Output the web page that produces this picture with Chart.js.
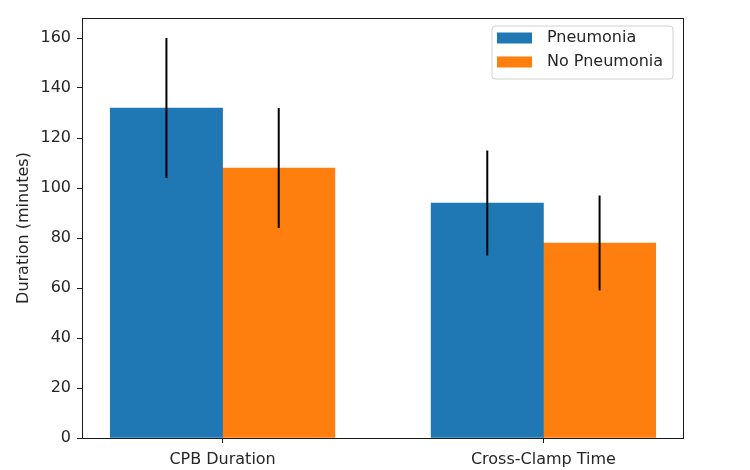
<!DOCTYPE html>
<html>
<head>
<meta charset="utf-8">
<script src="https://cdn.jsdelivr.net/npm/chart.js@4.4.1/dist/chart.umd.min.js"></script>
<style>
  html, body { margin: 0; padding: 0; background: #ffffff; }
  canvas { display: block; }
</style>
</head>
<body>
<canvas id="c" width="750" height="470"></canvas>
<script>
// ---- data ----
const categories = ["CPB Duration", "Cross-Clamp Time"];
const seriesLabels = ["Pneumonia", "No Pneumonia"];
const pneumoniaMeans = [132, 94];
const pneumoniaErrors = [28, 21];
const noPneumoniaMeans = [108, 78];
const noPneumoniaErrors = [24, 19];
const yTicks = [0, 20, 40, 60, 80, 100, 120, 140, 160];
const yAxisTitle = "Duration (minutes)";

// ---- styling constants ----
const BAR_W = 0.35;
const COLORS = ["#1f77b4", "#ff7f0e"];
const FONT = "'DejaVu Sans', sans-serif";
const TEXT = "#262626";

const meansList = [pneumoniaMeans, noPneumoniaMeans];
const errList = [pneumoniaErrors, noPneumoniaErrors];
const offsets = [-BAR_W / 2, BAR_W / 2];

const datasets = seriesLabels.map((lab, s) => ({
  label: lab,
  data: categories.map((c, i) => ({ x: i + offsets[s], y: meansList[s][i] })),
  backgroundColor: COLORS[s],
  borderWidth: 0,
  grouped: false,
  barPercentage: 1,
  categoryPercentage: 1,
  errors: errList[s]
}));

const errorBarPlugin = {
  id: 'errorBars',
  afterDatasetsDraw(chart) {
    const ctx = chart.ctx;
    const y = chart.scales.y;
    ctx.save();
    ctx.strokeStyle = '#000000';
    ctx.lineWidth = 2;
    chart.data.datasets.forEach((ds, di) => {
      const meta = chart.getDatasetMeta(di);
      meta.data.forEach((el, i) => {
        const m = ds.data[i].y, e = ds.errors[i];
        ctx.beginPath();
        ctx.moveTo(el.x, y.getPixelForValue(m + e));
        ctx.lineTo(el.x, y.getPixelForValue(m - e));
        ctx.stroke();
      });
    });
    // frame
    const a = chart.chartArea;
    ctx.strokeStyle = '#1a1a1a';
    ctx.lineWidth = 1;
    ctx.strokeRect(Math.round(a.left) - 0.5, Math.round(a.top) + 0.5,
                   Math.round(a.right - a.left) + 1, Math.round(a.bottom - a.top) - 0.0);
    ctx.restore();
  },
  afterDraw(chart) {
    // legend
    const ctx = chart.ctx;
    const a = chart.chartArea;
    const bx = a.right - 191, by = a.top + 8, bw = 181, bh = 53;
    ctx.save();
    ctx.beginPath();
    const r = 3;
    ctx.moveTo(bx + r, by);
    ctx.arcTo(bx + bw, by, bx + bw, by + bh, r);
    ctx.arcTo(bx + bw, by + bh, bx, by + bh, r);
    ctx.arcTo(bx, by + bh, bx, by, r);
    ctx.arcTo(bx, by, bx + bw, by, r);
    ctx.closePath();
    ctx.fillStyle = 'rgba(255,255,255,0.8)';
    ctx.fill();
    ctx.strokeStyle = '#d0d0d0';
    ctx.lineWidth = 1;
    ctx.stroke();
    ctx.font = "16px " + FONT;
    ctx.textBaseline = 'middle';
    ctx.textAlign = 'left';
    chart.data.datasets.forEach((ds, i) => {
      const cy = by + 12 + i * 24;
      ctx.fillStyle = ds.backgroundColor;
      ctx.fillRect(bx + 5, cy - 5.5, 35, 11);
      ctx.fillStyle = TEXT;
      ctx.fillText(ds.label, bx + 55, cy);
    });
    ctx.restore();
  }
};

new Chart(document.getElementById('c'), {
  type: 'bar',
  data: { datasets },
  options: {
    responsive: false,
    devicePixelRatio: 1,
    animation: false,
    layout: { padding: { left: 0, top: 18, right: 67, bottom: 0 } },
    plugins: { legend: { display: false }, tooltip: { enabled: false } },
    scales: {
      x: {
        type: 'linear',
        offset: false,
        min: -0.435,
        max: 1.435,
        afterBuildTicks(axis) { axis.ticks = categories.map((c, i) => ({ value: i })); },
        afterFit(axis) { axis.height = 32; },
        ticks: {
          callback: (v, i) => categories[i],
          font: { family: FONT, size: 16 },
          color: TEXT,
          padding: 7,
          maxRotation: 0,
          autoSkip: false
        },
        grid: { display: true, offset: false, drawOnChartArea: false, drawTicks: true, tickLength: 5, color: '#1a1a1a' },
        border: { display: false }
      },
      y: {
        min: 0,
        max: 168,
        afterBuildTicks(axis) { axis.ticks = yTicks.map(v => ({ value: v })); },
        afterFit(axis) { axis.width = 83; },
        ticks: {
          font: { family: FONT, size: 16 },
          color: TEXT,
          padding: 6
        },
        grid: { display: true, drawOnChartArea: false, drawTicks: true, tickLength: 6, color: '#1a1a1a' },
        border: { display: false },
        title: {
          display: true,
          text: yAxisTitle,
          font: { family: FONT, size: 16 },
          color: TEXT,
          padding: { top: 14, bottom: 0 }
        }
      }
    }
  },
  plugins: [errorBarPlugin]
});
</script>
</body>
</html>
